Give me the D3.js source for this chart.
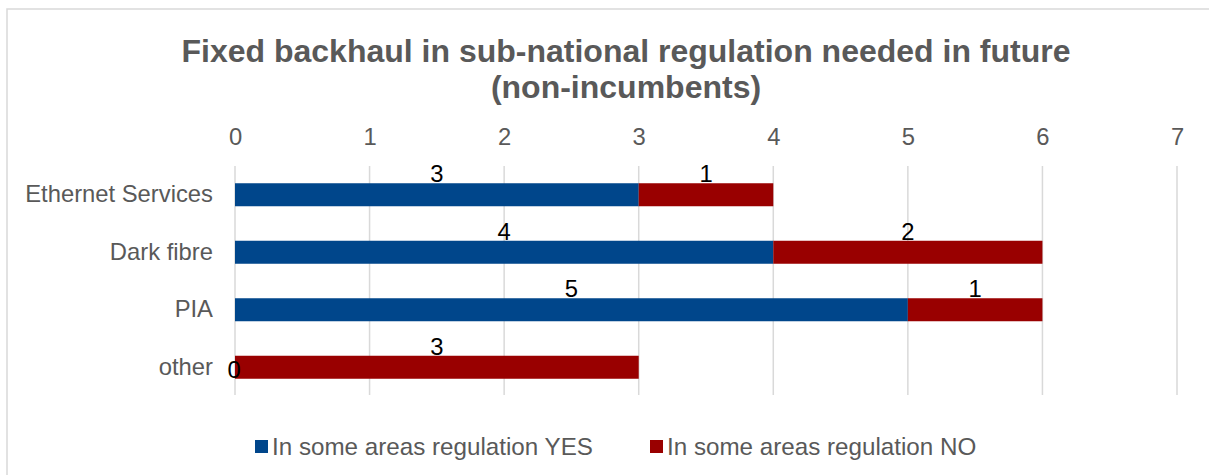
<!DOCTYPE html>
<html><head><meta charset="utf-8">
<script src="https://cdn.jsdelivr.net/npm/d3@7"></script>
<style>body{margin:0;background:#fff;} svg{display:block;font-family:"Liberation Sans",Arial,sans-serif;}</style>
</head><body>
<svg id="c" width="1209" height="475"></svg>
<script>
const categories = ["Ethernet Services", "Dark fibre", "PIA", "other"];
const seriesNames = ["In some areas regulation YES", "In some areas regulation NO"];
const yesValues = [3, 4, 5, 0];
const noValues = [1, 2, 1, 3];
const xTicks = [0, 1, 2, 3, 4, 5, 6, 7];
const titleLines = ["Fixed backhaul in sub-national regulation needed in future", "(non-incumbents)"];
const colors = ["#00468B", "#990000"];

const svg = d3.select("#c");
const textGray = "#595959";
const fs = 23.8;

// chart border
svg.append("rect").attr("x", 7).attr("y", 9).attr("width", 1220).attr("height", 480)
  .attr("fill", "none").attr("stroke", "#d9d9d9").attr("stroke-width", 1.5);

// title
titleLines.forEach((t, i) => {
  svg.append("text").attr("x", 626).attr("y", 62 + i * 35.5)
    .attr("text-anchor", "middle").attr("font-weight", "bold")
    .attr("font-size", 32).attr("fill", textGray).text(t);
});

const x = d3.scaleLinear().domain([0, 7]).range([235, 1177]);
const y = d3.scaleBand().domain(categories).range([166, 396]).paddingInner(0.6).paddingOuter(0.3);

// gridlines
svg.append("g").selectAll("line").data(xTicks).join("line")
  .attr("x1", d => x(d)).attr("x2", d => x(d))
  .attr("y1", 166).attr("y2", 395)
  .attr("stroke", "#d9d9d9").attr("stroke-width", 1.5);

// top axis labels
const ax = svg.append("g").attr("transform", "translate(0,145)")
  .call(d3.axisTop(x).tickValues(xTicks).tickSize(0).tickPadding(0).tickFormat(d3.format("d")));
ax.select(".domain").remove();
ax.selectAll("text").attr("font-size", fs).attr("fill", textGray)
  .attr("font-family", "Liberation Sans, Arial, sans-serif").attr("dy", 0);

// category labels
const ay = svg.append("g").attr("transform", "translate(213,0)")
  .call(d3.axisLeft(y).tickSize(0).tickPadding(0));
ay.select(".domain").remove();
ay.selectAll("text").attr("font-size", fs).attr("fill", textGray)
  .attr("font-family", "Liberation Sans, Arial, sans-serif");

// stacked data
const rows = categories.map((c, i) => ({cat: c, yes: yesValues[i], no: noValues[i]}));
const stack = d3.stack().keys(["yes", "no"])(rows);

const g = svg.append("g");
stack.forEach((s, si) => {
  g.append("g").selectAll("rect").data(s).join("rect")
    .attr("x", d => x(d[0])).attr("width", d => x(d[1]) - x(d[0]))
    .attr("y", d => y(d.data.cat)).attr("height", y.bandwidth())
    .attr("fill", colors[si]);
});

// data labels
stack.forEach((s, si) => {
  g.append("g").selectAll("text").data(s).join("text")
    .attr("x", d => x((d[0] + d[1]) / 2) - (d[1] - d[0] === 0 ? 1 : 0))
    .attr("y", d => (d[1] - d[0] === 0) ? y(d.data.cat) + y.bandwidth() - 1 : y(d.data.cat) - 1)
    .attr("text-anchor", "middle").attr("font-size", fs).attr("fill", "#000")
    .text(d => d[1] - d[0]);
});

// legend
const legX = [255, 650];
seriesNames.forEach((n, i) => {
  svg.append("rect").attr("x", legX[i]).attr("y", 440).attr("width", 13).attr("height", 13).attr("fill", colors[i]);
  svg.append("text").attr("x", legX[i] + 17).attr("y", 455).attr("font-size", 24.2).attr("fill", textGray).text(n);
});
</script>
</body></html>
